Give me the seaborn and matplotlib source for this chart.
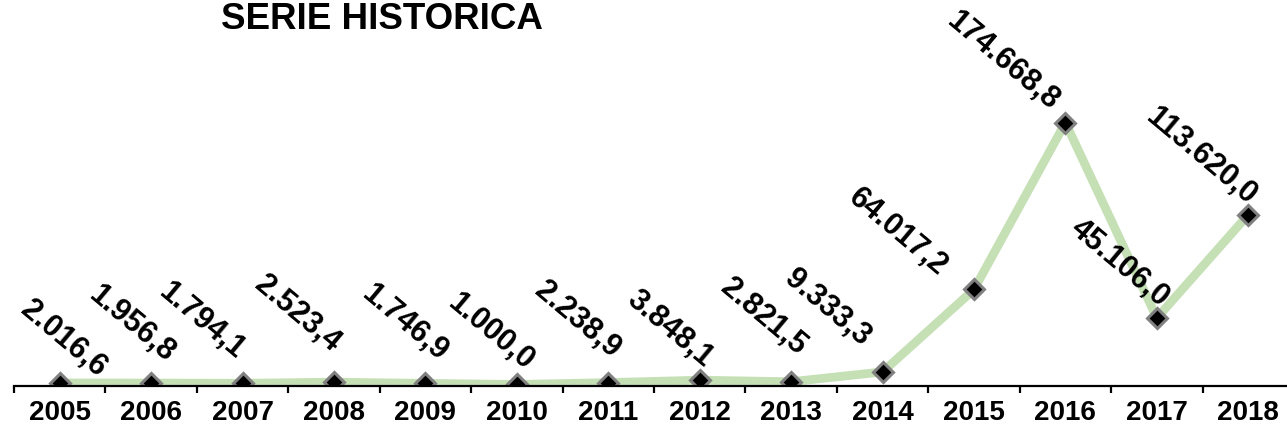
import matplotlib
matplotlib.use("Agg")
import matplotlib.pyplot as plt
import seaborn as sns
import pandas as pd

# ===== datos =====
years = ["2005", "2006", "2007", "2008", "2009", "2010", "2011",
         "2012", "2013", "2014", "2015", "2016", "2017", "2018"]
values = [2016.6, 1956.8, 1794.1, 2523.4, 1746.9, 1000.0, 2238.9,
          3848.1, 2821.5, 9333.3, 64017.2, 174668.8, 45106.0, 113620.0]

# desplazamiento de cada etiqueta respecto al punto (pixeles)
label_offsets = [(4, 44), (-20, 59), (-41, 62), (-37, 68), (-21, 61),
                 (-26, 53), (-31, 63), (-30, 51), (-28, 65), (-55, 64),
                 (-76, 57), (-63, 62), (-37, 55), (-47, 58)]

df = pd.DataFrame({"anio": years, "valor": values})

sns.set_theme(style="white")
plt.rcParams["font.family"] = ["Liberation Sans", "DejaVu Sans"]

fig = plt.figure(figsize=(12.87, 4.29), dpi=100)
ax = fig.add_axes([14 / 1287, 43 / 429, 1280 / 1287, 386 / 429])

sns.lineplot(data=df, x="anio", y="valor", ax=ax, color="#c5e0b4",
             linewidth=6.3, marker="D", markersize=10.5,
             markerfacecolor="black", markeredgecolor="#808080",
             markeredgewidth=2.2, sort=False)


def fmt(v):
    s = f"{v:,.1f}"
    return s.replace(",", "X").replace(".", ",").replace("X", ".")


for i, (v, (dx, dy)) in enumerate(zip(values, label_offsets)):
    ax.annotate(fmt(v), (i, v), xytext=(dx, dy), textcoords="offset pixels",
                rotation=-40, ha="center", va="center",
                fontsize=22, fontweight="bold", color="black")

ax.set_xlim(-0.5, len(years) - 0.5)
ax.set_ylim(0, 256000)
ax.set_xlabel("")
ax.set_ylabel("")
ax.set_yticks([])

for side in ["top", "right", "left"]:
    ax.spines[side].set_visible(False)
ax.spines["bottom"].set_color("black")
ax.spines["bottom"].set_linewidth(1.6)

ax.set_xticks(range(len(years)), labels=years)
ax.set_xticks([i - 0.5 for i in range(len(years) + 1)], minor=True)
ax.tick_params(axis="x", which="major", length=0, pad=10,
               labelsize=20, labelcolor="black")
ax.tick_params(axis="x", which="minor", bottom=True, direction="out",
               length=5, width=1.6, color="black")
for lbl in ax.get_xticklabels():
    lbl.set_fontweight("bold")

fig.text(0.297, 0.995, "SERIE HISTORICA", ha="center", va="top",
         fontsize=26.5, fontweight="bold", color="black")

fig.savefig("out.png", dpi=100)
